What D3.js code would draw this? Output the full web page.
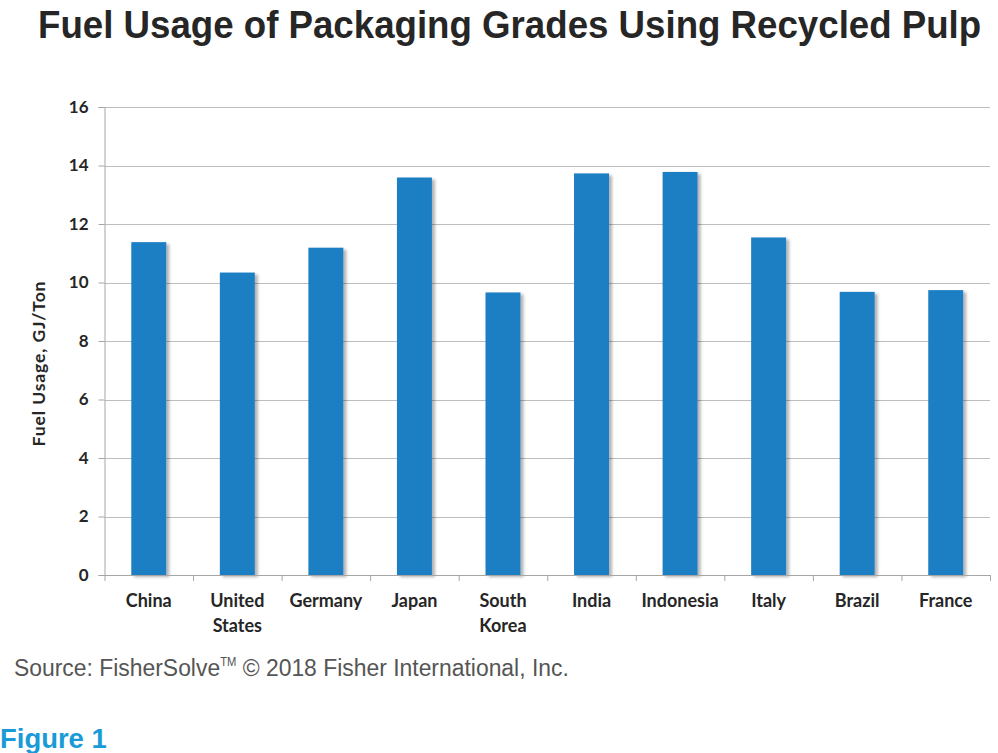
<!DOCTYPE html>
<html>
<head>
<meta charset="utf-8">
<script src="https://cdn.jsdelivr.net/npm/d3@7"></script>
<style>
  html, body { margin: 0; padding: 0; background: #ffffff; }
  svg { display: block; }
</style>
</head>
<body>
<svg id="chart" width="998" height="753"></svg>
<script>
const categories = [["China"], ["United", "States"], ["Germany"], ["Japan"], ["South", "Korea"], ["India"], ["Indonesia"], ["Italy"], ["Brazil"], ["France"]];
const values = [11.38, 10.34, 11.19, 13.59, 9.66, 13.73, 13.78, 11.54, 9.68, 9.74];
const yTicks = [0, 2, 4, 6, 8, 10, 12, 14, 16];
const titleText = "Fuel Usage of Packaging Grades Using Recycled Pulp";
const yAxisTitle = "Fuel Usage, GJ/Ton";
const figureLabel = "Figure 1";

(function () {
const svg = d3.select("#chart");
const pLeft = 104.5, pRight = 990, pTop = 107, pBottom = 575;
const labelFont = "Lato, 'Open Sans', sans-serif";

const defs = svg.append("defs");
const f = defs.append("filter").attr("id", "shadow").attr("x", "-10%").attr("y", "-5%").attr("width", "130%").attr("height", "110%");
f.append("feDropShadow").attr("dx", 3).attr("dy", 2).attr("stdDeviation", 1.5).attr("flood-color", "#000").attr("flood-opacity", 0.3);

const keys = categories.map((c, i) => i);
const x = d3.scaleBand().domain(keys).range([pLeft, pRight]).paddingInner(0.605).paddingOuter(0.3025);
const xb = d3.scaleBand().domain(keys).range([pLeft, pRight]);
const y = d3.scaleLinear().domain([0, 16]).range([pBottom, pTop]);

// Title
svg.append("text").attr("transform", "translate(38,38) scale(0.965,1)")
  .attr("font-family", "'Liberation Sans', Arial, sans-serif").attr("font-weight", "bold")
  .attr("font-size", 38).attr("fill", "#262626").text(titleText);

// Grid
svg.append("g").selectAll("line").data(yTicks.filter(d => d > 0)).join("line")
  .attr("x1", pLeft).attr("x2", pRight).attr("y1", d => Math.round(y(d)) + 0.5).attr("y2", d => Math.round(y(d)) + 0.5)
  .attr("stroke", "#bdbdbd").attr("stroke-width", 1);

// Y axis
const yAxis = svg.append("g").attr("transform", `translate(${pLeft},0)`)
  .call(d3.axisLeft(y).tickValues(yTicks).tickSize(6).tickPadding(10).tickFormat(d3.format("d")));
yAxis.select(".domain").attr("stroke", "#a6a6a6");
yAxis.selectAll(".tick line").attr("stroke", "#a6a6a6");
yAxis.selectAll(".tick text").attr("font-family", labelFont).attr("font-weight", "bold").attr("font-size", 17).attr("fill", "#262626");

// Bars
svg.append("g").selectAll("rect").data(values).join("rect")
  .attr("x", (d, i) => x(i)).attr("width", x.bandwidth())
  .attr("y", d => y(d)).attr("height", d => y(0) - y(d))
  .attr("fill", "#1f7fc4").attr("filter", "url(#shadow)");

// X axis
const xAxis = svg.append("g").attr("transform", `translate(0,${pBottom})`);
xAxis.append("line").attr("x1", pLeft).attr("x2", pRight).attr("y1", 0.5).attr("y2", 0.5).attr("stroke", "#a6a6a6");
xAxis.selectAll("line.tk").data(keys.concat([keys.length])).join("line").attr("class", "tk")
  .attr("x1", d => (d < keys.length ? xb(d) : pRight) + 0.5).attr("x2", d => (d < keys.length ? xb(d) : pRight) + 0.5)
  .attr("y1", 0).attr("y2", 6).attr("stroke", "#a6a6a6");
const lbl = xAxis.selectAll("text").data(categories).join("text")
  .attr("x", (d, i) => xb(i) + xb.bandwidth() / 2).attr("y", 31.5)
  .attr("text-anchor", "middle").attr("font-family", labelFont).attr("font-weight", "bold")
  .attr("font-size", 18).attr("fill", "#262626");
lbl.selectAll("tspan").data(d => d).join("tspan")
  .attr("x", function () { return this.parentNode.getAttribute("x"); })
  .attr("dy", (d, i) => i === 0 ? 0 : 25).text(d => d);

// Y axis title
svg.append("text").attr("transform", `translate(45,364) rotate(-90)`)
  .attr("text-anchor", "middle").attr("textLength", 165).attr("lengthAdjust", "spacing")
  .attr("font-family", labelFont).attr("font-weight", "bold")
  .attr("font-size", 17.5).attr("fill", "#262626").text(yAxisTitle);

// Source
const src = svg.append("text").attr("transform", "translate(14,676) scale(0.935,1)")
  .attr("font-family", "'Liberation Sans', Arial, sans-serif")
  .attr("font-size", 24.5).attr("fill", "#555555");
src.append("tspan").text("Source: FisherSolve");
src.append("tspan").attr("font-size", 12).attr("dy", -10).text("TM");
src.append("tspan").attr("dy", 10).text(" © 2018 Fisher International, Inc.");

// Figure label
svg.append("text").attr("transform", "translate(0,748) scale(0.98,1)")
  .attr("font-family", "'Liberation Sans', Arial, sans-serif")
  .attr("font-weight", "bold").attr("font-size", 28).attr("fill", "#1a9ad7").text(figureLabel);
})();
</script>
</body>
</html>
